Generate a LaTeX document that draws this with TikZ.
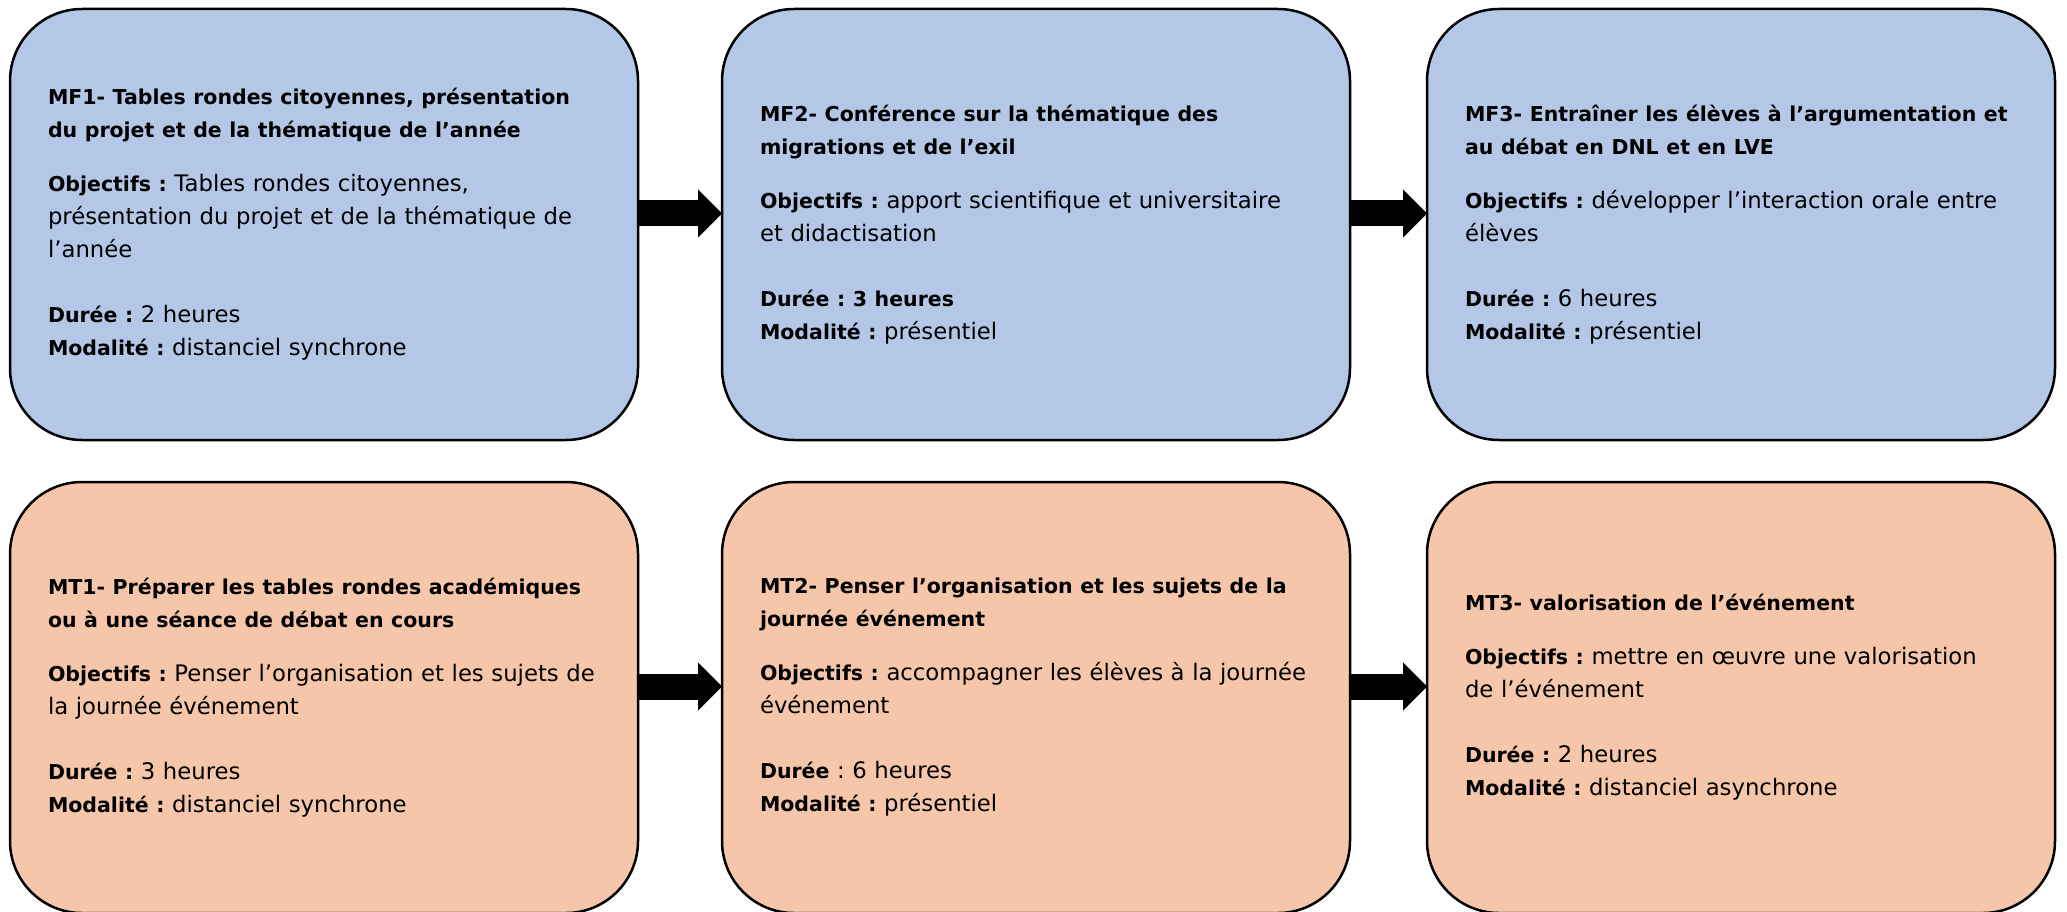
\documentclass[tikz,border=0pt]{standalone}
\usepackage{fontspec}
\setmainfont{DejaVu Sans}[UprightFeatures={Scale=1.11}]
\frenchspacing
\usetikzlibrary{positioning, arrows.meta}

\definecolor{mfblue}{RGB}{180,199,231}
\definecolor{mtorange}{RGB}{245,198,170}

\begin{document}
\begin{tikzpicture}
  \newcommand\boxwidth{628pt}
  \newcommand\boxheight{431pt}
  \newcommand\textwd{552pt}
  \newcommand\gapa{84pt}
  \newcommand\gapb{77pt}
  \newcommand\rowgap{42pt}
  \newcommand\arrowshift{11pt}
  \newcommand\titleskip{21pt}
  \newcommand\blankskip{32pt}

  \tikzset{modbox/.style={draw, line width=2.5pt, rounded corners=72pt, outer sep=0pt, inner xsep=0pt, minimum width=\boxwidth, minimum height=\boxheight, text width=\textwd, align=left, font=\fontsize{20.5}{33}\selectfont}}
  \tikzset{mfbox/.style={modbox, fill=mfblue}}
  \tikzset{mtbox/.style={modbox, fill=mtorange}}
  \tikzset{blockarrow/.style={line width=26pt, -{Triangle[length=24pt, width=48pt, line width=0pt]}}}

  \useasboundingbox (0,0) rectangle (2067pt,-912pt);

  % formation modules
  \node[mfbox, anchor=north west] at (10pt,-9pt) (mf1) {\textbf{MF1- Tables rondes citoyennes, présentation}\\
    \textbf{du projet et de la thématique de l’année}\\[\titleskip]
    \textbf{Objectifs :} Tables rondes citoyennes,\\
    présentation du projet et de la thématique de\\
    l’année\\[\blankskip]
    \textbf{Durée :} 2 heures\\
    \textbf{Modalité :} distanciel synchrone};
  \node[mfbox, right=\gapa of mf1] (mf2) {\textbf{MF2- Conférence sur la thématique des}\\
    \textbf{migrations et de l’exil}\\[\titleskip]
    \textbf{Objectifs :} apport scientifique et universitaire\\
    et didactisation\\[\blankskip]
    \textbf{Durée : 3 heures}\\
    \textbf{Modalité :} présentiel};
  \node[mfbox, right=\gapb of mf2] (mf3) {\textbf{MF3- Entraîner les élèves à l’argumentation et}\\
    \textbf{au débat en DNL et en LVE}\\[\titleskip]
    \textbf{Objectifs :} développer l’interaction orale entre\\
    élèves\\[\blankskip]
    \textbf{Durée :} 6 heures\\
    \textbf{Modalité :} présentiel};

  % territorial modules
  \node[mtbox, below=\rowgap of mf1] (mt1) {\textbf{MT1- Préparer les tables rondes académiques}\\
    \textbf{ou à une séance de débat en cours}\\[\titleskip]
    \textbf{Objectifs :} Penser l’organisation et les sujets de\\
    la journée événement\\[\blankskip]
    \textbf{Durée :} 3 heures\\
    \textbf{Modalité :} distanciel synchrone};
  \node[mtbox, below=\rowgap of mf2] (mt2) {\textbf{MT2- Penser l’organisation et les sujets de la}\\
    \textbf{journée événement}\\[\titleskip]
    \textbf{Objectifs :} accompagner les élèves à la journée\\
    événement\\[\blankskip]
    \textbf{Durée} : 6 heures\\
    \textbf{Modalité :} présentiel};
  \node[mtbox, below=\rowgap of mf3] (mt3) {\textbf{MT3- valorisation de l’événement}\\[\titleskip]
    \textbf{Objectifs :} mettre en œuvre une valorisation\\
    de l’événement\\[\blankskip]
    \textbf{Durée :} 2 heures\\
    \textbf{Modalité :} distanciel asynchrone};

  \foreach \src/\dst in {mf1/mf2, mf2/mf3, mt1/mt2, mt2/mt3}{
    \draw[blockarrow] ([yshift=\arrowshift]\src.east) -- ([yshift=\arrowshift]\dst.west);
  }
\end{tikzpicture}
\end{document}
